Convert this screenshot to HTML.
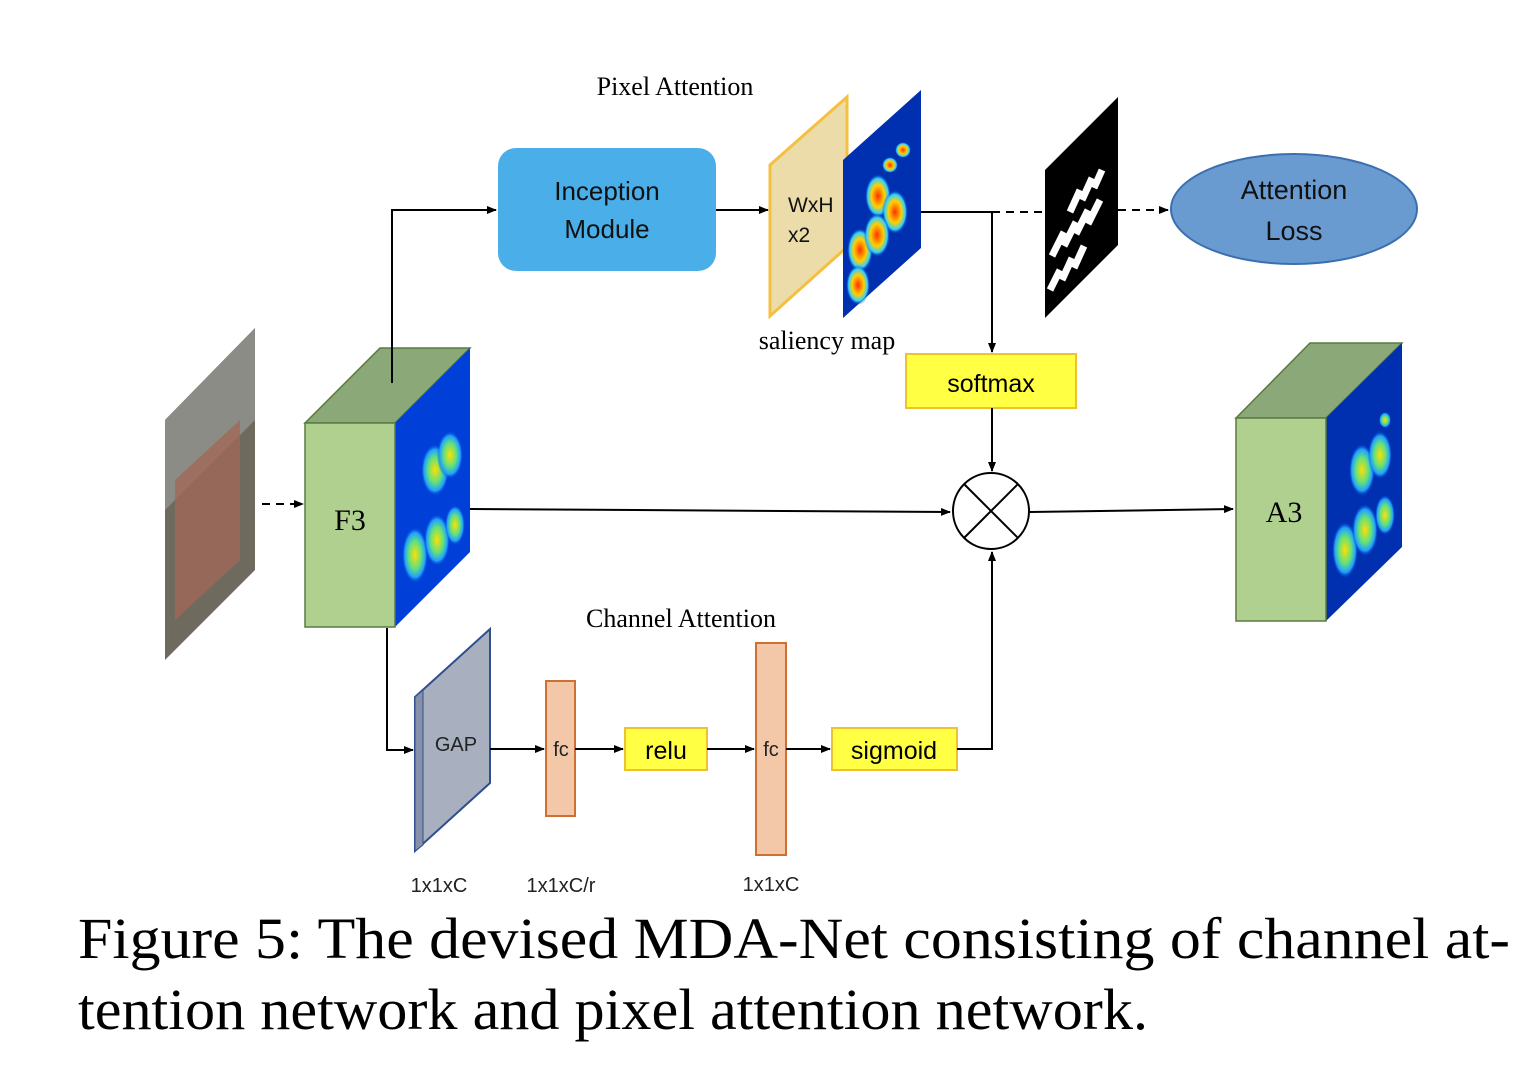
<!DOCTYPE html>
<html><head><meta charset="utf-8"><style>body{margin:0;background:#fff}svg{display:block}</style></head><body>
<svg width="1538" height="1076" viewBox="0 0 1538 1076" xmlns="http://www.w3.org/2000/svg">
<defs>
<marker id="a" markerWidth="10" markerHeight="8" refX="9" refY="4" orient="auto" markerUnits="userSpaceOnUse"><path d="M0,0 L10,4 L0,8 z" fill="#000"/></marker>
<radialGradient id="blob" cx="50%" cy="50%" r="50%"><stop offset="0" stop-color="#ff3000"/><stop offset="0.5" stop-color="#ffd000"/><stop offset="0.8" stop-color="#30d0ff"/><stop offset="1" stop-color="#0030c0" stop-opacity="0"/></radialGradient>
<radialGradient id="blobg" cx="50%" cy="50%" r="50%"><stop offset="0" stop-color="#ffe000"/><stop offset="0.5" stop-color="#60e080"/><stop offset="0.8" stop-color="#20a0ff"/><stop offset="1" stop-color="#0040d0" stop-opacity="0"/></radialGradient>
</defs>
<g font-family="Liberation Serif, serif" font-size="26" fill="#000" text-anchor="middle">
<text x="675" y="95">Pixel Attention</text>
<text x="827" y="349">saliency map</text>
<text x="681" y="627">Channel Attention</text>
</g>
<rect x="498" y="148" width="218" height="123" rx="18" fill="#4aaee8"/>
<g font-family="Liberation Sans, sans-serif" font-size="26" text-anchor="middle" fill="#111">
<text x="607" y="200">Inception</text><text x="607" y="238">Module</text></g>
<line x1="716" y1="210" x2="768" y2="210" stroke="#000" stroke-width="2" marker-end="url(#a)"/>
<polygon points="770,165 847,97 847,247 770,316" fill="#ecdcaa" stroke="#f5c040" stroke-width="3"/>
<g font-family="Liberation Sans, sans-serif" font-size="21" fill="#111"><text x="788" y="212">WxH</text><text x="788" y="242">x2</text></g>
<polygon points="843,160 921,90 921,248 843,318" fill="#0030b0"/>
<g fill="url(#blob)">
<ellipse cx="878" cy="196" rx="13" ry="22"/><ellipse cx="895" cy="212" rx="13" ry="22"/>
<ellipse cx="860" cy="250" rx="13" ry="22"/><ellipse cx="877" cy="235" rx="13" ry="22"/>
<ellipse cx="858" cy="285" rx="12" ry="20"/><ellipse cx="903" cy="150" rx="8" ry="8"/><ellipse cx="890" cy="165" rx="8" ry="8"/>
</g>
<line x1="921" y1="212" x2="992" y2="212" stroke="#000" stroke-width="2"/>
<line x1="992" y1="212" x2="1045" y2="212" stroke="#000" stroke-width="2" stroke-dasharray="8,6"/>
<polygon points="1045,170 1118,97 1118,245 1045,318" fill="#000"/>
<g stroke="#fff" stroke-width="7">
<line x1="1050" y1="290" x2="1060" y2="270"/><line x1="1062" y1="280" x2="1072" y2="258"/><line x1="1074" y1="268" x2="1084" y2="246"/>
<line x1="1052" y1="256" x2="1064" y2="232"/><line x1="1064" y1="246" x2="1076" y2="222"/><line x1="1076" y1="234" x2="1088" y2="210"/><line x1="1088" y1="224" x2="1100" y2="200"/>
<line x1="1070" y1="212" x2="1080" y2="190"/><line x1="1082" y1="200" x2="1092" y2="178"/><line x1="1094" y1="188" x2="1102" y2="170"/>
</g>
<line x1="1118" y1="210" x2="1168" y2="210" stroke="#000" stroke-width="2" stroke-dasharray="8,6" marker-end="url(#a)"/>
<ellipse cx="1294" cy="209" rx="123" ry="55" fill="#6a9bd0" stroke="#3a6fb0" stroke-width="2"/>
<g font-family="Liberation Sans, sans-serif" font-size="27" text-anchor="middle" fill="#111"><text x="1294" y="199">Attention</text><text x="1294" y="240">Loss</text></g>
<line x1="992" y1="212" x2="992" y2="352" stroke="#000" stroke-width="2" marker-end="url(#a)"/>
<rect x="906" y="354" width="170" height="54" fill="#ffff44" stroke="#f0c030" stroke-width="2"/>
<text x="991" y="392" font-family="Liberation Sans, sans-serif" font-size="25" text-anchor="middle">softmax</text>
<line x1="992" y1="408" x2="992" y2="471" stroke="#000" stroke-width="2" marker-end="url(#a)"/>
<circle cx="991" cy="511" r="38" fill="#fff" stroke="#000" stroke-width="2"/>
<line x1="964" y1="484" x2="1018" y2="538" stroke="#000" stroke-width="2"/><line x1="1018" y1="484" x2="964" y2="538" stroke="#000" stroke-width="2"/>
<polygon points="165,420 255,328 255,570 165,660" fill="#6f6a5e"/>
<polygon points="165,420 255,328 255,420 165,510" fill="#8c8c86"/>
<polygon points="175,480 240,420 240,560 175,620" fill="#a06858" opacity="0.8"/>
<line x1="262" y1="504" x2="303" y2="504" stroke="#000" stroke-width="2" stroke-dasharray="8,6" marker-end="url(#a)"/>
<polygon points="305,423 380,348 470,348 395,423" fill="#8aa878" stroke="#5a7a40" stroke-width="1.5"/>
<polygon points="395,423 470,348 470,552 395,627" fill="#0040d8"/>
<g fill="url(#blobg)"><ellipse cx="435" cy="470" rx="14" ry="26"/><ellipse cx="450" cy="455" rx="13" ry="24"/><ellipse cx="415" cy="555" rx="13" ry="28"/><ellipse cx="437" cy="540" rx="13" ry="26"/><ellipse cx="455" cy="525" rx="10" ry="20"/></g>
<rect x="305" y="423" width="90" height="204" fill="#b0d090" stroke="#5a7a40" stroke-width="1.5"/>
<text x="350" y="530" font-family="Liberation Serif, serif" font-size="30" text-anchor="middle">F3</text>
<polyline points="392,383 392,210 496,210" fill="none" stroke="#000" stroke-width="2" marker-end="url(#a)"/>
<line x1="470" y1="509" x2="950" y2="512" stroke="#000" stroke-width="2" marker-end="url(#a)"/>
<line x1="1030" y1="512" x2="1233" y2="509" stroke="#000" stroke-width="2" marker-end="url(#a)"/>
<polygon points="1236,418 1310,343 1402,343 1326,418" fill="#8aa878" stroke="#5a7a40" stroke-width="1.5"/>
<polygon points="1326,418 1402,343 1402,547 1326,621" fill="#0030b0"/>
<g fill="url(#blobg)"><ellipse cx="1362" cy="470" rx="13" ry="26"/><ellipse cx="1380" cy="455" rx="12" ry="24"/><ellipse cx="1345" cy="550" rx="13" ry="28"/><ellipse cx="1365" cy="530" rx="13" ry="26"/><ellipse cx="1385" cy="515" rx="10" ry="20"/><ellipse cx="1385" cy="420" rx="6" ry="8"/></g>
<rect x="1236" y="418" width="90" height="203" fill="#b0d090" stroke="#5a7a40" stroke-width="1.5"/>
<text x="1284" y="522" font-family="Liberation Serif, serif" font-size="30" text-anchor="middle">A3</text>
<polyline points="387,628 387,750 413,750" fill="none" stroke="#000" stroke-width="2" marker-end="url(#a)"/>
<polygon points="415,697 490,629 490,783 415,851" fill="#a8b0c0" stroke="#2f4f8f" stroke-width="2"/>
<polygon points="415,697 423,690 423,845 415,851" fill="#8890a8" stroke="#2f4f8f" stroke-width="1"/>
<g font-family="Liberation Sans, sans-serif" font-size="20" fill="#222" text-anchor="middle">
<text x="456" y="751">GAP</text>
<text x="439" y="892">1x1xC</text><text x="561" y="892">1x1xC/r</text><text x="771" y="891">1x1xC</text></g>
<line x1="490" y1="749" x2="544" y2="749" stroke="#000" stroke-width="2" marker-end="url(#a)"/>
<rect x="546" y="681" width="29" height="135" fill="#f2c8a8" stroke="#d07030" stroke-width="2"/>
<text x="561" y="756" font-family="Liberation Sans, sans-serif" font-size="20" text-anchor="middle" fill="#222">fc</text>
<line x1="575" y1="749" x2="623" y2="749" stroke="#000" stroke-width="2" marker-end="url(#a)"/>
<rect x="625" y="728" width="82" height="42" fill="#ffff44" stroke="#f0c030" stroke-width="2"/>
<text x="666" y="759" font-family="Liberation Sans, sans-serif" font-size="25" text-anchor="middle">relu</text>
<line x1="707" y1="749" x2="754" y2="749" stroke="#000" stroke-width="2" marker-end="url(#a)"/>
<rect x="756" y="643" width="30" height="212" fill="#f2c8a8" stroke="#d07030" stroke-width="2"/>
<text x="771" y="756" font-family="Liberation Sans, sans-serif" font-size="20" text-anchor="middle" fill="#222">fc</text>
<line x1="786" y1="749" x2="830" y2="749" stroke="#000" stroke-width="2" marker-end="url(#a)"/>
<rect x="832" y="728" width="125" height="42" fill="#ffff44" stroke="#f0c030" stroke-width="2"/>
<text x="894" y="759" font-family="Liberation Sans, sans-serif" font-size="25" text-anchor="middle">sigmoid</text>
<polyline points="957,749 992,749 992,552" fill="none" stroke="#000" stroke-width="2" marker-end="url(#a)"/>
<g font-family="Liberation Serif, serif" font-size="58" fill="#000">
<text x="78" y="958" textLength="1432" lengthAdjust="spacingAndGlyphs">Figure 5:  The devised MDA-Net consisting of channel at-</text>
<text x="78" y="1029" textLength="1070" lengthAdjust="spacingAndGlyphs">tention network and pixel attention network.</text>
</g>
</svg>
</body></html>
